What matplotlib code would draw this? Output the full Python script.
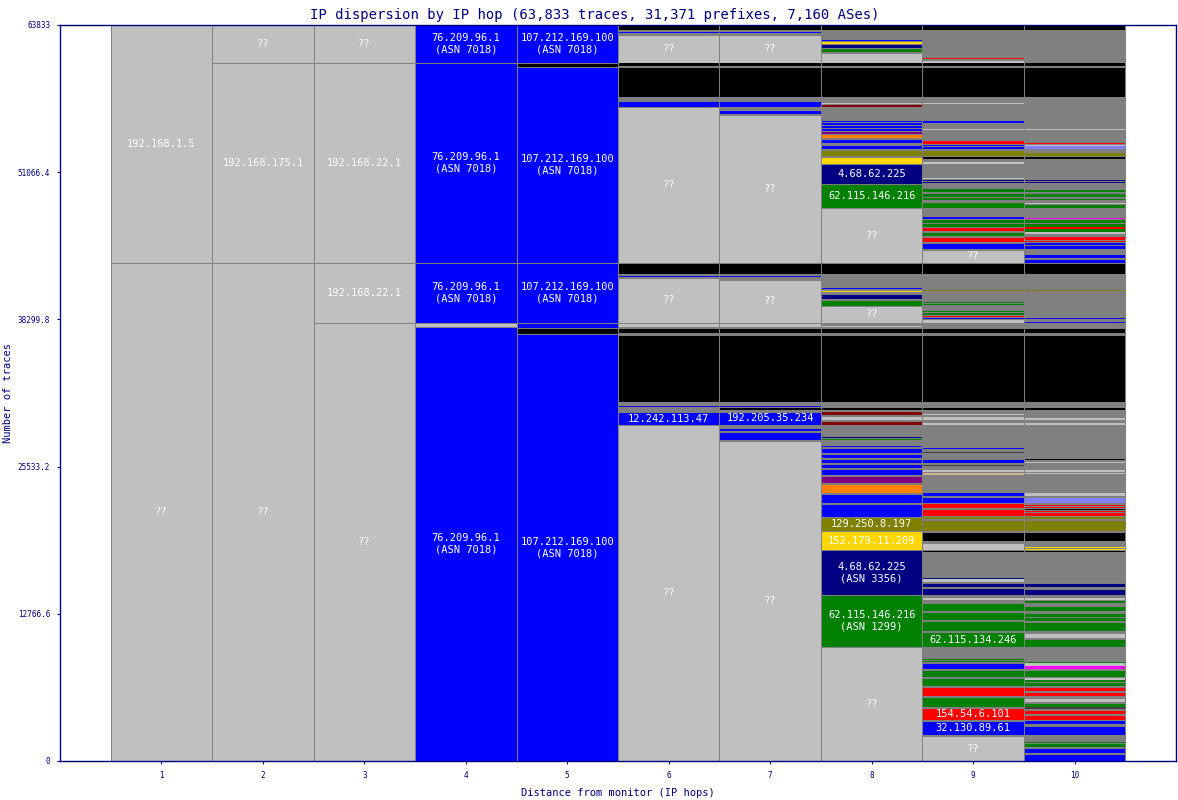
import matplotlib
matplotlib.use("Agg")
import matplotlib.pyplot as plt

TOTAL = 63833
A4 = "76.209.96.1\n(ASN 7018)"
A5 = "107.212.169.100\n(ASN 7018)"

hops = [1, 2, 3, 4, 5, 6, 7, 8, 9, 10]
ytick_vals = [0, 12766.6, 25533.2, 38299.8, 51066.4, 63833]
ytick_text = ["0", "12766.6", "25533.2", "38299.8", "51066.4", "63833"]

# segments of each hop, listed from the top of the column down:
# (traces, colour code, label)
hop1 = [(20641, 'g', '192.168.1.5'), (43192, 'g', '??')]
hop2 = [(3296, 'g', '??'), (17346, 'g', '192.168.175.1'), (43192, 'g', '??')]
hop3 = [(3296, 'g', '??'), (17346, 'g', '192.168.22.1'), (5204, 'g', '192.168.22.1'),
        (37988, 'g', '??')]
hop4 = [(3296, 'b', A4), (17346, 'b', A4), (5204, 'b', A4), (347, 'g'), (37641, 'b', A4)]
hop5 = [(3296, 'b', A5), (347, 'k'), (16999, 'b', A5), (5204, 'b', A5), (434, 'b'),
        (520, 'k'), (37034, 'b', A5)]
hop6 = [(434, 'k'), (173, 'o'), (87, 'b'), (173, 'o'), (2428, 'g', '??'),
        (260, 'k'), (87, 'o'), (2602, 'k'), (347, 'o'), (520, 'b'), (13530, 'g', '??'),
        (954, 'k'), (173, 'o'), (87, 'b'), (87, 'o'), (3903, 'g', '??'),
        (87, 'o'), (260, 'g'), (87, 'o'), (434, 'k'), (173, 'o'), (5811, 'k'),
        (347, 'o'), (87, 'b'), (434, 'o'), (1127, 'b', '12.242.113.47'), (29141, 'g', '??')]
hop7 = [(434, 'k'), (173, 'o'), (87, 'b'), (173, 'o'), (2428, 'g', '??'),
        (260, 'k'), (87, 'o'), (2602, 'k'), (347, 'o'), (520, 'b'), (347, 'o'), (260, 'b'),
        (87, 'o'), (12836, 'g', '??'),
        (954, 'k'), (173, 'o'), (87, 'b'), (260, 'o'), (3729, 'g', '??'),
        (87, 'o'), (260, 'g'), (87, 'o'), (434, 'k'), (173, 'o'), (5811, 'k'),
        (347, 'o'), (87, 'b'), (87, 'o'), (173, 'k'), (173, 'o'), (1127, 'b', '192.205.35.234'),
        (347, 'o'), (173, 'b'), (87, 'o'), (694, 'b'), (87, 'o'), (27754, 'g', '??')]
hop8 = [(434, 'k'), (867, 'o'), (87, 'b'), (87, 'o'), (173, 'y'), (87, 'o'), (260, 'n'),
        (87, 'o'), (260, 'G'), (87, 'o'), (867, 'g'),
        (260, 'k'), (87, 'o'), (2602, 'k'), (520, 'o'), (87, 'g'), (87, 'o'), (173, 'm'),
        (1214, 'o'), (87, 'b'), (87, 'o'), (173, 'b'), (87, 'o'), (173, 'b'), (87, 'o'),
        (173, 'b'), (87, 'o'), (173, 'p'), (87, 'o'), (260, 'O'), (87, 'o'), (347, 'b'),
        (173, 'o'), (347, 'b'), (87, 'o'), (520, 'Y'), (87, 'o'), (607, 'y'),
        (1735, 'n', '4.68.62.225'), (2082, 'G', '62.115.146.216'), (4770, 'g', '??'),
        (954, 'k'), (1214, 'o'), (87, 'b'), (173, 'o'), (87, 'y'), (173, 'o'), (434, 'n'),
        (87, 'o'), (520, 'G'), (1474, 'g', '??'),
        (260, 'o'), (87, 'g'), (87, 'o'), (434, 'k'), (173, 'o'), (5811, 'k'),
        (520, 'o'), (173, 'k'), (173, 'o'), (260, 'm'), (87, 'o'), (347, 'g'), (87, 'o'),
        (347, 'm'), (1041, 'o'), (87, 'n'), (87, 'o'), (87, 'G'), (520, 'o'),
        (87, 'b'), (87, 'o'), (434, 'b'), (87, 'o'), (347, 'b'), (87, 'o'), (347, 'b'),
        (87, 'o'), (347, 'b'), (87, 'o'), (520, 'b'), (87, 'o'), (607, 'p'), (87, 'o'),
        (781, 'O'), (87, 'o'), (781, 'b'), (87, 'o'), (1127, 'b'),
        (1214, 'Y', '129.250.8.197'), (1648, 'y', '152.179.11.209'),
        (3903, 'n', '4.68.62.225\n(ASN 3356)'), (4510, 'G', '62.115.146.216\n(ASN 1299)'),
        (9887, 'g', '??')]
hop9 = [(434, 'k'), (2428, 'o'), (87, 'r'), (173, 'o'), (173, 'g'),
        (260, 'k'), (87, 'o'), (2602, 'k'), (520, 'o'), (87, 'g'), (1474, 'o'),
        (173, 'b'), (520, 'o'), (87, 'g'), (954, 'o'), (260, 'r'), (87, 'o'), (87, 'b'),
        (87, 'o'), (173, 'b'), (87, 'o'),
        (520, 'Y'), (87, 'o'), (173, 'k'), (260, 'o'), (173, 'g'), (1214, 'o'), (87, 'g'),
        (87, 'o'), (87, 'n'), (87, 'o'), (87, 'n'), (434, 'o'),
        (347, 'G'), (87, 'o'), (347, 'G'), (87, 'o'), (173, 'G'), (173, 'o'), (520, 'G'),
        (781, 'o'), (173, 'b'), (87, 'o'), (260, 'G'), (87, 'o'), (260, 'G'), (347, 'r'),
        (87, 'o'), (347, 'G'), (87, 'o'), (434, 'r'), (87, 'o'), (520, 'b'), (87, 'o'),
        (1127, 'g', '??'),
        (954, 'k'), (1388, 'o'), (87, 'Y'), (954, 'o'), (87, 'G'), (87, 'o'), (87, 'G'),
        (520, 'o'), (87, 'G'), (87, 'o'), (173, 'G'), (87, 'o'), (87, 'r'), (87, 'o'),
        (87, 'b'), (87, 'o'), (260, 'g'),
        (434, 'o'), (434, 'k'), (173, 'o'), (5811, 'k'),
        (520, 'o'), (173, 'k'), (347, 'o'), (87, 'g'), (87, 'o'), (347, 'g'), (260, 'o'),
        (173, 'g'), (1995, 'o'), (87, 'b'), (260, 'o'), (87, 'd'), (520, 'o'), (347, 'b'),
        (173, 'o'), (87, 'd'), (347, 'o'), (173, 'g'), (87, 'o'), (173, 't'),
        (1561, 'o'), (260, 'b'), (87, 'o'), (520, 'b'), (434, 'r'), (87, 'o'), (607, 'r'),
        (87, 'o'), (173, 'Y'), (87, 'o'), (954, 'Y'), (87, 'o'), (781, 'k'), (173, 'o'),
        (607, 'g'), (87, 'o'), (87, 'k'),
        (2255, 'o'), (87, 'n'), (260, 'g'), (87, 'o'), (347, 'n'), (87, 'o'), (607, 'n'),
        (260, 'o'), (173, 'g'), (260, 'o'), (694, 'G'), (87, 'o'), (694, 'G'), (87, 'o'),
        (867, 'G'), (87, 'o'), (1301, 'G', '62.115.134.246'),
        (1041, 'o'), (87, 'G'), (87, 'o'), (87, 'G'), (87, 'o'), (520, 'b'), (87, 'o'),
        (607, 'G'), (87, 'o'), (694, 'G'), (87, 'o'), (781, 'r'), (87, 'o'), (867, 'G'),
        (87, 'o'), (1041, 'r', '154.54.6.101'), (87, 'o'), (1214, 'b', '32.130.89.61'),
        (87, 'o'), (2168, 'g', '??')]
hop10 = [(434, 'k'), (2862, 'o'),
         (260, 'k'), (87, 'o'), (2602, 'k'), (2775, 'o'), (87, 'g'), (1127, 'o'),
         (87, 'r'), (87, 'o'), (87, 'g'), (260, 's'), (260, 'o'), (347, 'Y'), (87, 'o'),
         (173, 'k'), (1821, 'o'), (87, 'n'), (87, 'o'), (87, 'n'), (607, 'o'),
         (173, 'G'), (87, 'o'), (347, 'G'), (173, 'o'), (87, 'G'), (260, 'o'), (87, 'g'),
         (87, 'o'), (260, 'G'), (867, 'o'), (87, 'M'), (87, 'o'),
         (260, 'G'), (87, 'o'), (260, 'G'), (173, 'r'), (260, 'G'), (173, 'g'), (260, 'o'),
         (260, 'r'), (87, 'o'), (87, 'r'), (87, 'o'),
         (173, 'b'), (87, 'o'), (260, 'b'), (520, 'o'), (260, 'b'), (87, 'o'), (347, 'b'),
         (954, 'k'), (1388, 'o'), (87, 'Y'), (2342, 'o'), (87, 'b'), (260, 'o'), (87, 'b'),
         (434, 'o'), (434, 'k'), (173, 'o'), (5811, 'k'),
         (520, 'o'), (173, 'k'), (694, 'o'), (173, 'g'), (260, 'o'), (173, 'g'),
         (2949, 'o'), (87, 'k'), (173, 'o'), (87, 'g'), (607, 'o'), (173, 'g'), (87, 'o'),
         (87, 'g'), (1648, 'o'),
         (260, 'g'), (87, 'o'), (520, 's'), (173, 'o'), (87, 'r'), (87, 'o'), (87, 'r'),
         (87, 'o'), (87, 'k'), (87, 'o'), (87, 'r'), (87, 'o'), (260, 'r'), (87, 'o'),
         (173, 'Y'), (87, 'o'), (954, 'Y'), (87, 'o'), (781, 'k'), (520, 'o'), (87, 'y'),
         (87, 'o'), (87, 'y'), (87, 'o'), (87, 'k'),
         (2689, 'o'), (347, 'n'), (173, 'o'), (520, 'n'), (260, 'o'), (173, 'g'), (87, 'o'),
         (173, 'G'), (260, 'o'), (434, 'G'), (173, 'o'), (347, 'G'), (87, 'o'), (260, 'G'),
         (87, 'o'), (781, 'G'), (173, 'o'), (434, 'g'), (87, 'o'), (694, 'G'),
         (1301, 'o'), (87, 'G'), (260, 'g'), (260, 'M'), (87, 'o'), (607, 'G'), (87, 'o'),
         (173, 'g'), (173, 'G'), (87, 'o'), (260, 'G'), (87, 'o'),
         (347, 'r'), (87, 'o'), (347, 'r'), (173, 'o'), (347, 'g'), (87, 'o'), (347, 'G'),
         (173, 'd'), (87, 'o'), (347, 'r'), (87, 'o'), (434, 'r'), (87, 'o'),
         (260, 'b'), (173, 'o'), (781, 'b'), (607, 'o'), (87, 'G'), (87, 'o'), (260, 'G'),
         (87, 'o'), (434, 'b'), (87, 'o'), (607, 'b')]

columns = [hop1, hop2, hop3, hop4, hop5, hop6, hop7, hop8, hop9, hop10]

colors = {
    'g': '#c0c0c0', 'k': '#000000', 'o': '#808080', 'b': '#0000ff', 'n': '#000080',
    'G': '#008000', 'r': '#ff0000', 'y': '#ffd700', 'Y': '#808000', 'm': '#800000',
    'p': '#800080', 'O': '#ff8000', 's': '#8080ff', 'M': '#ff00ff', 't': '#d2b48c',
    'd': '#404040',
}
EDGE = '#808080'
NAVY = '#000080'
MONO = 'DejaVu Sans Mono'

fig = plt.figure(figsize=(11.78, 8), dpi=100)
ax = fig.add_axes([60 / 1178, 39 / 800, 1116 / 1178, 736 / 800])

for x, segs in zip(hops, columns):
    top = TOTAL
    for seg in segs:
        count, code = seg[0], seg[1]
        label = seg[2] if len(seg) > 2 else None
        bottom = top - count
        ax.bar(x, count, bottom=bottom, width=1, color=colors[code], linewidth=0)
        if count >= 300:
            ax.bar(x, count, bottom=bottom, width=1, fill=False,
                   edgecolor=EDGE, linewidth=0.7)
        if label:
            ax.text(x, bottom + count / 2, label, color='white', ha='center',
                    va='center', fontsize=7.5, family=MONO, linespacing=1.15)
        top = bottom

ax.vlines([h - 0.5 for h in hops] + [hops[-1] + 0.5], 0, TOTAL,
          colors=EDGE, linewidth=0.7)

ax.set_xlim(0, 11)
ax.set_ylim(0, TOTAL)
ax.set_xticks(hops)
ax.set_xticklabels([str(h) for h in hops], fontsize=5.5, family=MONO, color=NAVY)
ax.set_yticks(ytick_vals)
ax.set_yticklabels(ytick_text, fontsize=5.5, family=MONO, color=NAVY)
ax.tick_params(length=2, color=NAVY, pad=5)
for sp in ax.spines.values():
    sp.set_color(NAVY)
    sp.set_linewidth(1)

ax.set_xlabel("Distance from monitor (IP hops)", fontsize=7.5, family=MONO,
              color=NAVY, va='center')
ax.set_ylabel("Number of traces", fontsize=7.5, family=MONO, color=NAVY, va='center')
ax.xaxis.set_label_coords(0.5, -0.0435)
ax.yaxis.set_label_coords(-0.0466, 0.5)
fig.text(0.505, 0.99, "IP dispersion by IP hop (63,833 traces, 31,371 prefixes, 7,160 ASes)",
         ha='center', va='top', fontsize=10, family=MONO, color=NAVY)

fig.savefig("out.png", dpi=100)
